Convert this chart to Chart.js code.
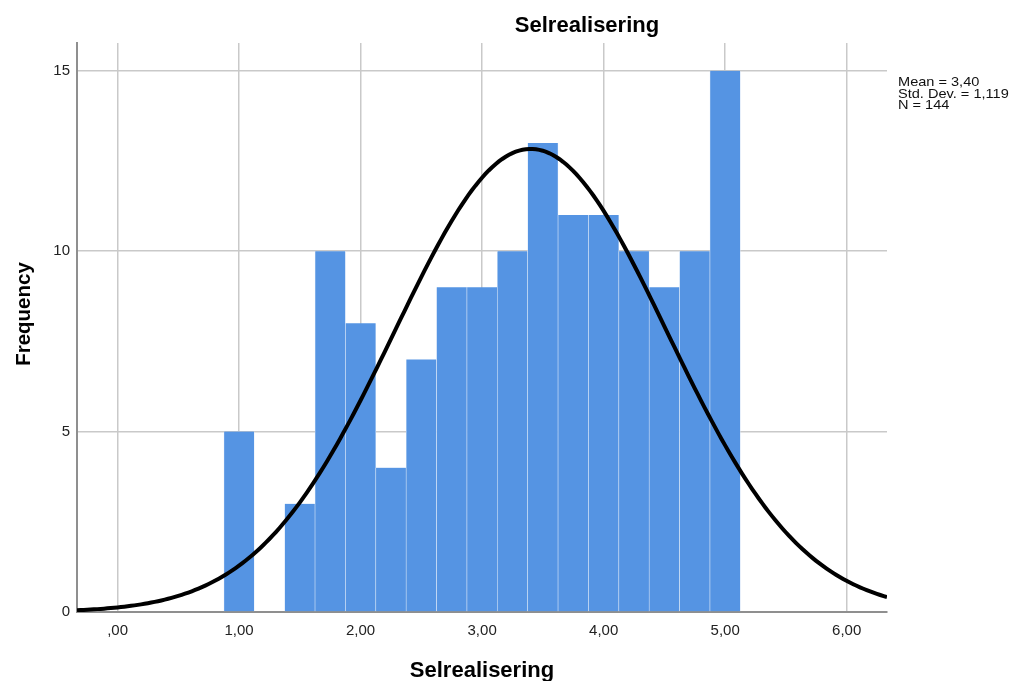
<!DOCTYPE html>
<html>
<head>
<meta charset="utf-8">
<title>Selrealisering</title>
<script src="https://cdn.jsdelivr.net/npm/chart.js@4.4.1/dist/chart.umd.min.js"></script>
<style>
  html, body { margin: 0; padding: 0; background: #ffffff; }
  #wrap { position: relative; width: 1018px; height: 681px; }
</style>
</head>
<body>
<div id="wrap"><canvas id="hist"></canvas></div>
<script>
// Histogram bins (bin centres) and their frequencies
const binCenters = [1.00, 1.50, 1.75, 2.00, 2.25, 2.50, 2.75, 3.00, 3.25, 3.50, 3.75, 4.00, 4.25, 4.50, 4.75, 5.00];
const frequencies = [5, 3, 10, 8, 4, 7, 9, 9, 10, 13, 11, 11, 10, 9, 10, 15];

// Summary statistics shown beside the plot
const statMean = 3.40;
const statStdDev = 1.119;
const statN = 144;
const binWidth = 0.25;

// Axis ticks and range
const xTickValues = [0, 1, 2, 3, 4, 5, 6];
const yTickValues = [0, 5, 10, 15];
const xRange = [-0.334, 6.332];
const yRange = [0, 15.77];

const titleText = 'Selrealisering';
const xAxisTitle = 'Selrealisering';
const yAxisTitle = 'Frequency';
const statLines = [
  'Mean = ' + statMean.toFixed(2).replace('.', ','),
  'Std. Dev. = ' + statStdDev.toFixed(3).replace('.', ','),
  'N = ' + statN
];

// Fitted normal curve scaled to counts per bin
const curvePoints = [];
const steps = 240;
for (let i = 0; i <= steps; i++) {
  const x = xRange[0] + (xRange[1] - xRange[0]) * i / steps;
  const z = (x - statMean) / statStdDev;
  const y = statN * binWidth * Math.exp(-0.5 * z * z) / (statStdDev * Math.sqrt(2 * Math.PI));
  curvePoints.push({ x: x, y: y });
}

const barPoints = binCenters.map((c, i) => ({ x: c, y: frequencies[i] }));

function spssNumber(v) {
  const s = v.toFixed(2).replace('.', ',');
  return s.startsWith('0,') ? s.slice(1) : s;
}

const FONT = '"Liberation Sans", Arial, sans-serif';

const textPlugin = {
  id: 'histText',
  afterDraw(chart) {
    const ctx = chart.ctx;
    const area = chart.chartArea;
    ctx.save();
    ctx.fillStyle = '#000000';
    ctx.textBaseline = 'alphabetic';
    ctx.textAlign = 'center';
    ctx.font = 'bold 22px ' + FONT;
    ctx.fillText(titleText, 587, 32);
    ctx.fillText(xAxisTitle, (area.left + area.right) / 2, 677);

    ctx.save();
    ctx.translate(30, 314);
    ctx.rotate(-Math.PI / 2);
    ctx.font = 'bold 20.5px ' + FONT;
    ctx.fillText(yAxisTitle, 0, 0);
    ctx.restore();

    // Statistics block: slightly widened small type, tightly stacked
    ctx.save();
    ctx.translate(898, 0);
    ctx.scale(1.12, 1);
    ctx.textAlign = 'left';
    ctx.font = '13px ' + FONT;
    ctx.fillStyle = '#111111';
    statLines.forEach((line, i) => {
      ctx.fillText(line, 0, 86 + i * 11.6);
    });
    ctx.restore();
    ctx.restore();
  }
};

new Chart(document.getElementById('hist'), {
  type: 'bar',
  data: {
    datasets: [
      {
        type: 'line',
        data: curvePoints,
        borderColor: '#000000',
        borderWidth: 4,
        pointRadius: 0,
        tension: 0,
        fill: false,
        order: 0
      },
      {
        type: 'bar',
        data: barPoints,
        backgroundColor: '#5594e3',
        borderColor: '#dce8f8',
        borderWidth: { left: 0.6, right: 0.6, top: 0, bottom: 0 },
        borderSkipped: false,
        barPercentage: 1,
        categoryPercentage: 1,
        order: 1
      }
    ]
  },
  options: {
    responsive: true,
    maintainAspectRatio: false,
    animation: false,
    events: [],
    layout: { padding: { left: 0, top: 43, right: 131, bottom: 0 } },
    plugins: {
      legend: { display: false },
      tooltip: { enabled: false },
      title: { display: false }
    },
    scales: {
      x: {
        type: 'linear',
        offset: false,
        min: xRange[0],
        max: xRange[1],
        afterFit(scale) { scale.height = 69; },
        afterBuildTicks(scale) { scale.ticks = xTickValues.map(v => ({ value: v })); },
        ticks: {
          callback: (v) => spssNumber(v),
          font: { family: FONT, size: 15 },
          color: '#222222',
          padding: 10,
          maxRotation: 0,
          autoSkip: false
        },
        grid: { color: '#c9c9c9', lineWidth: 1.5, drawTicks: false, offset: false },
        border: { display: true, color: '#8f8f8f', width: 2 }
      },
      y: {
        type: 'linear',
        min: yRange[0],
        max: yRange[1],
        afterFit(scale) { scale.width = 77; },
        afterBuildTicks(scale) { scale.ticks = yTickValues.map(v => ({ value: v })); },
        ticks: {
          callback: (v) => String(v),
          font: { family: FONT, size: 15 },
          color: '#222222',
          padding: 7
        },
        grid: { color: '#c9c9c9', lineWidth: 1.5, drawTicks: false },
        border: { display: true, color: '#8f8f8f', width: 2 }
      }
    }
  },
  plugins: [textPlugin]
});
</script>
</body>
</html>
